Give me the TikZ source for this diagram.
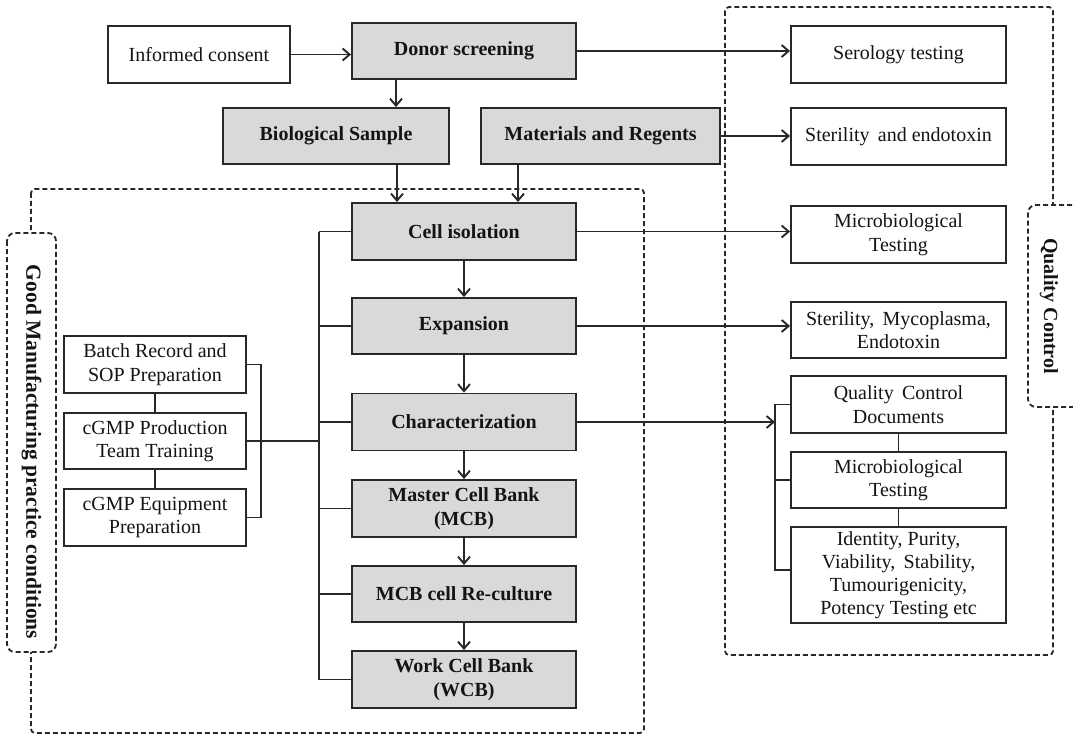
\documentclass[tikz,border=0pt]{standalone}
\usepackage{fontspec}
\setmainfont{Liberation Serif}
\usetikzlibrary{arrows.meta}
\definecolor{lnc}{RGB}{40,40,40}
\definecolor{fillg}{RGB}{217,217,217}
\begin{document}
\begin{tikzpicture}[x=1pt,y=-1pt,
  every node/.style={font=\fontsize{20}{23.5}\selectfont,text=black!92},
  box/.style={draw=lnc,line width=1.9pt,fill=white,align=center,inner sep=0pt},
  gbox/.style={box,fill=fillg,font=\fontsize{20}{23.5}\selectfont\bfseries},
  lnk/.style={draw=lnc,line width=1.9pt},
  arr/.style={lnk,-{Straight Barb[length=7pt,width=12pt]}},
  dashbox/.style={draw=lnc,line width=1.8pt,dash pattern=on 5pt off 3pt},
]
\useasboundingbox (0,0) rectangle (1073,738);
\fill[white] (0,0) rectangle (1073,738);

% dashed regions
\draw[dashbox,rounded corners=4pt] (31,189) rectangle (644,733);
\draw[dashbox,rounded corners=4pt] (725,7) rectangle (1053,655);

% left label
\draw[dashbox,rounded corners=8pt,fill=white] (7,233) rectangle (56,652);
\node[rotate=-90,inner sep=0pt,font=\fontsize{21.5}{24}\selectfont\bfseries] (gmp) at (31.5,452) {Good Manufacturing practice conditions};
% right label
\draw[dashbox,rounded corners=8pt,fill=white] (1080,205) -- (1028,205) -- (1028,407) -- (1080,407);
\node[rotate=-90,inner sep=0pt,font=\fontsize{20}{23.5}\selectfont\bfseries] (qcl) at (1049,306) {Quality Control};

% top row
\node[box,minimum width=182pt,minimum height=57pt] (ic) at (199,54.5) {Informed consent};
\node[gbox,minimum width=224pt,minimum height=56pt] (ds) at (464,51) {Donor screening};
\node[gbox,minimum width=226pt,minimum height=56pt] (bs) at (336,136) {Biological Sample};
\node[gbox,minimum width=239pt,minimum height=56pt] (mr) at (600.5,136) {Materials and Regents};

% main column
\node[gbox,minimum width=224pt,minimum height=57pt] (ci) at (464,231.5) {Cell isolation};
\node[gbox,minimum width=224pt,minimum height=56pt] (ex) at (464,326) {Expansion};
\node[gbox,minimum width=224pt,minimum height=57pt] (ch) at (464,422) {Characterization};
\node[gbox,minimum width=224pt,minimum height=57pt] (mcb) at (464,508.5) {Master Cell Bank\\(MCB)};
\node[gbox,minimum width=224pt,minimum height=56pt] (rc) at (464,594) {MCB cell Re-culture};
\node[gbox,minimum width=224pt,minimum height=57pt] (wcb) at (464,679.5) {Work Cell Bank\\(WCB)};

% right column
\node[box,minimum width=215pt,minimum height=57pt] (st) at (898.5,54.5) {Serology testing};
\node[box,minimum width=215pt,minimum height=57pt] (se) at (898.5,136.5) {Sterility\, and endotoxin};
\node[box,minimum width=215pt,minimum height=57pt] (mt) at (898.5,234.5) {Microbiological\\Testing};
\node[box,minimum width=215pt,minimum height=56pt] (sm) at (898.5,330) {Sterility,\, Mycoplasma,\\Endotoxin};
\node[box,minimum width=215pt,minimum height=57pt] (qd) at (898.5,404.5) {Quality\, Control\\Documents};
\node[box,minimum width=215pt,minimum height=56pt] (mt2) at (898.5,480) {Microbiological\\Testing};
\node[box,minimum width=215pt,minimum height=96pt,font=\fontsize{20}{23}\selectfont] (id) at (898.5,575) {Identity, Purity,\\Viability,\, Stability,\\Tumourigenicity,\\Potency Testing etc};

% left column
\node[box,minimum width=182pt,minimum height=57pt] (br) at (155,364.5) {Batch Record and\\SOP Preparation};
\node[box,minimum width=182pt,minimum height=56pt] (pt) at (155,441) {cGMP Production\\Team Training};
\node[box,minimum width=182pt,minimum height=57pt] (eq) at (155,517.5) {cGMP Equipment\\Preparation};

\coordinate (bus) at (319,0);
\coordinate (qb) at (775,0);

% arrows top
\draw[arr] (ic.east) -- (ic.east -| ds.west);
\draw[arr] (ds.east) -- (ds.east -| st.west);
\draw[arr] ([xshift=-68pt]ds.south) -- ([xshift=60pt]bs.north);
\draw[arr] ([xshift=61pt]bs.south) -- ([xshift=-67pt]ci.north);
\draw[arr] ([xshift=-82.5pt]mr.south) -- ([xshift=54pt]ci.north);
\draw[arr] (mr.east) -- (mr.east -| se.west);

% main column arrows
\draw[arr] (ci.south) -- (ex.north);
\draw[arr] (ex.south) -- (ch.north);
\draw[arr] (ch.south) -- (mcb.north);
\draw[arr] (mcb.south) -- (rc.north);
\draw[arr] (rc.south) -- (wcb.north);

% to QC
\draw[arr] (ci.east) -- (ci.east -| mt.west);
\draw[arr] (ex.east) -- (ex.east -| sm.west);
\draw[arr] (ch.east) -- (ch.east -| qb);
\draw[lnk] (qd.west) -- (qd.west -| qb) -- ([yshift=5pt]id.west -| qb) -- ([yshift=5pt]id.west);
\draw[lnk] (mt2.west) -- (mt2.west -| qb);
\draw[lnk] (qd.south) -- (mt2.north);
\draw[lnk] (mt2.south) -- (id.north);

% bus
\draw[lnk] (ci.west -| bus) -- (wcb.west -| bus);
\foreach \n in {ci,ex,ch,mcb,rc,wcb} \draw[lnk] (\n.west) -- (\n.west -| bus);
\draw[lnk] (pt.east) -- (pt.east -| bus);
\draw[lnk] (br.east) -- ++(14,0) |- (eq.east);
\draw[lnk] (br.south) -- (pt.north);
\draw[lnk] (pt.south) -- (eq.north);
\end{tikzpicture}
\end{document}
